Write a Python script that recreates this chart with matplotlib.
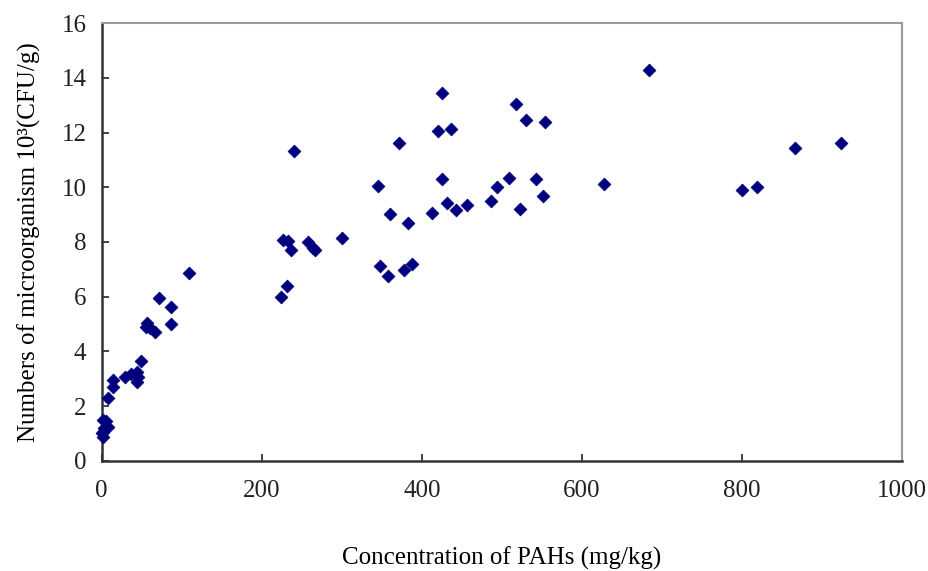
import matplotlib
matplotlib.use("Agg")
import matplotlib.pyplot as plt

# Concentration of PAHs (mg/kg)
pahs = [1, 2, 3, 5, 8, 2, 0,
        8, 14, 14, 29, 37, 44, 45, 44, 49,
        57, 55, 60, 67, 71, 87, 87, 109,
        224, 231, 227, 233, 237, 240, 258, 264, 266, 300,
        345, 347, 358, 360, 371, 378, 383, 388,
        413, 420, 425, 425, 431, 436, 442, 456,
        486, 494, 509, 517, 522, 530, 542, 551, 554,
        627, 683, 800, 819, 866, 923]
# Numbers of microorganism (10^3 CFU/g)
microbes = [0.85, 1.05, 1.2, 1.45, 1.25, 1.5, 1.0,
            2.28, 2.95, 2.71, 3.05, 3.17, 3.26, 3.07, 2.89, 3.66,
            5.05, 4.90, 4.84, 4.70, 5.96, 5.63, 5.00, 6.85,
            5.98, 6.39, 8.07, 8.04, 7.71, 11.34, 8.01, 7.77, 7.71, 8.16,
            10.06, 7.12, 6.77, 9.04, 11.61, 6.96, 8.71, 7.18,
            9.05, 12.06, 13.44, 10.30, 9.41, 12.13, 9.17, 9.35,
            9.49, 10.01, 10.35, 13.04, 9.20, 12.46, 10.31, 9.68, 12.39,
            10.12, 14.29, 9.90, 10.00, 11.43, 11.61]

xticks = [0, 200, 400, 600, 800, 1000]
yticks = [0, 2, 4, 6, 8, 10, 12, 14, 16]

plt.rcParams['font.family'] = ['Liberation Serif', 'DejaVu Serif']

W, H = 929, 571
fig = plt.figure(figsize=(W / 100, H / 100), dpi=100)
left, right, top, bottom = 101.7, 902.3, 23.3, 460.7
ax = fig.add_axes([left / W, 1 - bottom / H, (right - left) / W, (bottom - top) / H])

ax.scatter(pahs, microbes, marker='D', s=42, color='#00007f', edgecolors='#00007f',
           linewidths=0.6, zorder=3, clip_on=False)

ax.set_xlim(0, 1000)
ax.set_ylim(0, 16)
ax.set_xticks(xticks)
ax.set_yticks(yticks)
ax.tick_params(direction='in', length=5, width=1.2, labelsize=18, colors='#222222',
               pad=14)
ax.tick_params(axis='y', pad=11)

for s in ['left', 'bottom']:
    ax.spines[s].set_color('#333333')
    ax.spines[s].set_linewidth(1.8)
for s in ['top', 'right']:
    ax.spines[s].set_color('#999999')
    ax.spines[s].set_linewidth(1.5)

ax.set_xlabel('Concentration of PAHs (mg/kg)', fontsize=18, labelpad=32)
ax.set_ylabel('Numbers of microorganism 10³(CFU/g)', fontsize=18, labelpad=15)

fig.savefig('out.png', dpi=100)
